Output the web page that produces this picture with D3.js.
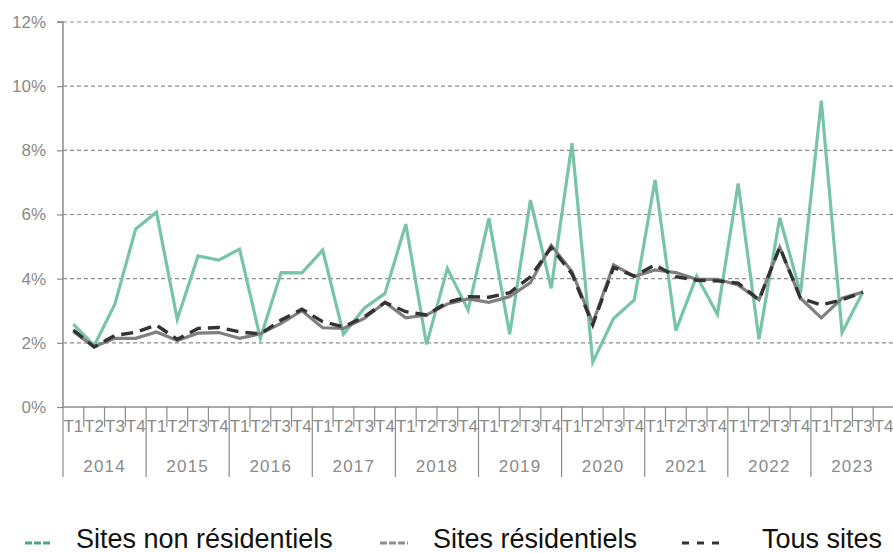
<!DOCTYPE html>
<html lang="fr">
<head>
<meta charset="utf-8">
<script src="https://cdn.jsdelivr.net/npm/d3@7"></script>
<style>
  html, body { margin: 0; padding: 0; background: #fff; }
  svg { display: block; }
  .tick-lbl { font-family: "Liberation Sans", Arial, sans-serif; fill: #8a8a8a; }
  .legend-lbl { font-family: "Liberation Sans", Arial, sans-serif; fill: #111; }
</style>
</head>
<body>
<svg id="chart" width="893" height="553"></svg>
<script>
// Years and quarters on the x axis
const years = ["2014", "2015", "2016", "2017", "2018", "2019", "2020", "2021", "2022", "2023"];
const quarters = ["T1", "T2", "T3", "T4"];

// Y axis ticks (%)
const yTicks = [0, 2, 4, 6, 8, 10, 12];

// Quarterly rates (%), 2014 T1 to 2023 T4 (2023 T4 not yet available)
const nonResidentiels = [
  2.58, 1.91, 3.21, 5.55,
  6.07, 2.73, 4.71, 4.58,
  4.92, 2.14, 4.19, 4.18,
  4.89, 2.27, 3.08, 3.54,
  5.70, 1.95, 4.32, 3.02,
  5.88, 2.27, 6.45, 3.70,
  8.22, 1.40, 2.76, 3.34,
  7.08, 2.38, 4.08, 2.89,
  6.97, 2.11, 5.90, 3.54,
  9.55, 2.32, 3.58, null
];
const residentiels = [
  2.35, 1.88, 2.14, 2.14,
  2.34, 2.07, 2.30, 2.32,
  2.14, 2.28, 2.61, 3.00,
  2.47, 2.45, 2.76, 3.26,
  2.78, 2.87, 3.21, 3.37,
  3.26, 3.44, 3.88, 5.04,
  4.22, 2.62, 4.43, 4.07,
  4.27, 4.19, 3.98, 3.98,
  3.80, 3.34, 4.98, 3.39,
  2.78, 3.39, 3.58, null
];
const tousSites = [
  2.40, 1.87, 2.23, 2.33,
  2.55, 2.11, 2.45, 2.48,
  2.34, 2.28, 2.71, 3.05,
  2.66, 2.50, 2.81, 3.26,
  2.97, 2.87, 3.26, 3.44,
  3.42, 3.56, 4.06, 4.97,
  4.15, 2.56, 4.35, 4.08,
  4.43, 4.06, 3.95, 3.93,
  3.86, 3.34, 4.98, 3.39,
  3.18, 3.34, 3.58, null
];

const seriesNames = ["Sites non résidentiels", "Sites résidentiels", "Tous sites"];

// ---- layout ----
const svg = d3.select("#chart");
const plotLeft = 63, plotRight = 894, plotTop = 22, plotBottom = 407;

const keys = [];
years.forEach(yr => quarters.forEach(q => keys.push(yr + "-" + q)));

const x = d3.scaleBand().domain(keys).range([plotLeft, plotRight]).padding(0);
const y = d3.scaleLinear().domain([0, 12]).range([plotBottom, plotTop]);

// horizontal dashed gridlines
svg.append("g")
  .selectAll("line")
  .data(yTicks.filter(t => t > 0))
  .join("line")
  .attr("x1", plotLeft).attr("x2", 893)
  .attr("y1", d => y(d)).attr("y2", d => y(d))
  .attr("stroke", "#8c8c8c")
  .attr("stroke-width", 1.1)
  .attr("stroke-dasharray", "4,3");

// y axis
const yAxis = d3.axisLeft(y)
  .tickValues(yTicks)
  .tickFormat(d => d + "%")
  .tickSize(6)
  .tickPadding(11);
const gy = svg.append("g").attr("transform", `translate(${plotLeft},0)`).call(yAxis);
gy.select(".domain").attr("stroke", "#8c8c8c").attr("stroke-width", 1.5)
  .attr("d", `M-6,${plotTop}H0V${plotBottom}`);
gy.selectAll(".tick line").attr("stroke", "#8c8c8c").attr("stroke-width", 1.2);
gy.selectAll(".tick text")
  .attr("class", "tick-lbl")
  .style("font-size", "17px")
  .attr("fill", "#8a8a8a");

// x axis baseline
svg.append("line")
  .attr("x1", plotLeft).attr("x2", 893)
  .attr("y1", plotBottom).attr("y2", plotBottom)
  .attr("stroke", "#8c8c8c").attr("stroke-width", 1.5);

// quarter separators (short) and year separators (long)
const gx = svg.append("g");
gx.selectAll("line.q")
  .data(keys)
  .join("line")
  .attr("class", "q")
  .attr("x1", d => x(d)).attr("x2", d => x(d))
  .attr("y1", plotBottom)
  .attr("y2", d => d.endsWith("T1") ? 477 : 427)
  .attr("stroke", "#8c8c8c")
  .attr("stroke-width", 1.2);

// quarter labels
gx.selectAll("text.q")
  .data(keys)
  .join("text")
  .attr("class", "tick-lbl q")
  .attr("x", d => x(d) + x.bandwidth() / 2)
  .attr("y", 432)
  .attr("text-anchor", "middle")
  .style("font-size", "17px")
  .text(d => d.split("-")[1]);

// year labels
gx.selectAll("text.yr")
  .data(years)
  .join("text")
  .attr("class", "tick-lbl yr")
  .attr("x", d => x(d + "-T1") + 2 * x.bandwidth())
  .attr("y", 472)
  .attr("text-anchor", "middle")
  .style("font-size", "17px")
  .style("letter-spacing", "1.2px")
  .text(d => d);

// ---- lines ----
const line = d3.line()
  .defined(d => d.v != null)
  .x(d => x(d.k) + x.bandwidth() / 2)
  .y(d => y(d.v));

const toPts = arr => arr.map((v, i) => ({ k: keys[i], v }));

const styles = [
  { data: nonResidentiels, color: "#78c4a6", width: 3.2, dash: null },
  { data: residentiels, color: "#7f7f7f", width: 3.2, dash: null },
  { data: tousSites, color: "#333333", width: 3.4, dash: "12,7" }
];

styles.forEach(s => {
  svg.append("path")
    .datum(toPts(s.data))
    .attr("d", line)
    .attr("fill", "none")
    .attr("stroke", s.color)
    .attr("stroke-width", s.width)
    .attr("stroke-linejoin", "miter")
    .attr("stroke-dasharray", s.dash);
});

// ---- legend ----
const legendItems = [
  { name: seriesNames[0], color: "#4ea584", dash: "7,2", mx: 25, mw: 27, tx: 76 },
  { name: seriesNames[1], color: "#8c8c8c", dash: "7,2", mx: 380, mw: 28, tx: 433 },
  { name: seriesNames[2], color: "#333333", dash: "7,8", mx: 682, mw: 41, tx: 762 }
];
const lg = svg.append("g");
lg.selectAll("line")
  .data(legendItems)
  .join("line")
  .attr("x1", d => d.mx).attr("x2", d => d.mx + d.mw)
  .attr("y1", 543).attr("y2", 543)
  .attr("stroke", d => d.color)
  .attr("stroke-width", 3)
  .attr("stroke-dasharray", d => d.dash);
lg.selectAll("text")
  .data(legendItems)
  .join("text")
  .attr("class", "legend-lbl")
  .attr("x", d => d.tx)
  .attr("y", 548)
  .style("font-size", "27px")
  .text(d => d.name);
</script>
</body>
</html>
